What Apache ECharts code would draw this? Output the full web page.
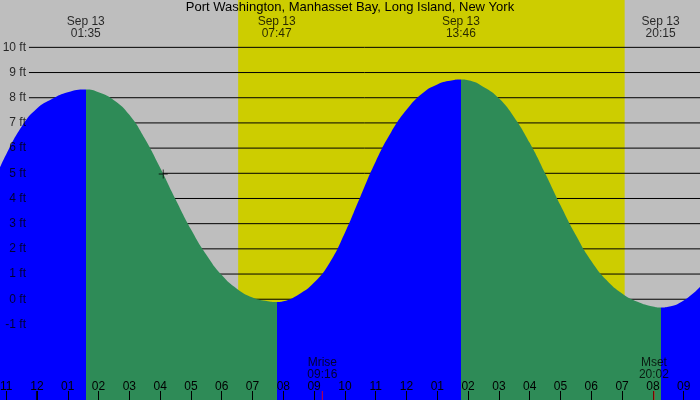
<!DOCTYPE html>
<html>
<head>
<meta charset="utf-8">
<title>Port Washington tides</title>
<script src="https://cdn.jsdelivr.net/npm/echarts@6/dist/echarts.min.js"></script>
<style>
html, body { margin: 0; padding: 0; background: #bebebe; }
#chart { width: 700px; height: 400px; }
</style>
</head>
<body>
<div id="chart"></div>
<script>
// tide height in ft; time = hours after midnight Sep 13
var tideHours = [-1.2, -1.0, -0.5, 0.0, 0.5, 1.0, 1.583,
    2.0, 2.5, 3.0, 3.5, 4.0, 4.5, 5.0, 5.5, 6.0, 6.5, 7.0, 7.5, 7.783,
    8.0, 8.5, 9.0, 9.5, 10.0, 10.5, 11.0, 11.5, 12.0, 12.5, 13.0, 13.5, 13.767,
    14.0, 14.5, 15.0, 15.5, 16.0, 16.5, 17.0, 17.5, 18.0, 18.5, 19.0, 19.5, 20.0, 20.25,
    20.5, 21.0, 21.53];
var tideFeet = [5.24, 5.75, 6.85, 7.57, 7.96, 8.22, 8.33,
    8.22, 7.90, 7.32, 6.38, 5.22, 3.97, 2.78, 1.77, 0.96, 0.41, 0.07, -0.08, -0.11,
    -0.08, 0.19, 0.66, 1.44, 2.64, 4.07, 5.47, 6.63, 7.52, 8.16, 8.53, 8.69, 8.72,
    8.69, 8.43, 7.98, 7.22, 6.21, 5.00, 3.73, 2.54, 1.52, 0.75, 0.23, -0.10, -0.29, -0.33,
    -0.30, -0.05, 0.49];

// high / low tide events (first one is a high)
var extremeDate = 'Sep 13';
var extremeTimes = ['01:35', '07:47', '13:46', '20:15'];
// moon rise / set
var moonNames = ['Mrise', 'Mset'];
var moonTimes = ['09:16', '20:02'];
// sunrise / sunset
var sunTimes = ['06:32', '19:05'];
// the + marker
var nowMark = [4.10, 4.97];

// ticks
var hourTicks = [-1, 0, 1, 2, 3, 4, 5, 6, 7, 8, 9, 10, 11, 12, 13, 14, 15, 16, 17, 18, 19, 20, 21];
var hourLabels = ['11', '12', '01', '02', '03', '04', '05', '06', '07', '08', '09', '10', '11',
    '12', '01', '02', '03', '04', '05', '06', '07', '08', '09'];
var dayBreaks = [0];
var footTicks = [-1, 0, 1, 2, 3, 4, 5, 6, 7, 8, 9, 10];

var X_MIN = -1.2, X_MAX = 21.53;
var Y_MIN = -4, Y_MAX = 11.88;
var LINE_START = -0.26;   // where the level lines begin (just right of the labels)

var FLOOD = '#0000ff', EBB = '#2e8b57', DAY = '#cdcd00', NIGHT = '#bebebe';

function toHours(s) {
    var p = s.split(':');
    return +p[0] + (+p[1]) / 60;
}

var tideData = tideHours.map(function (h, i) { return [h, tideFeet[i]]; });

// blue while rising, green while falling
var bounds = [X_MIN].concat(extremeTimes.map(toHours)).concat([X_MAX]);
var pieces = [];
for (var i = 0; i < bounds.length - 1; i++) {
    pieces.push({ gte: bounds[i], lt: bounds[i + 1], color: i % 2 === 0 ? FLOOD : EBB });
}
pieces[pieces.length - 1].lte = X_MAX;
delete pieces[pieces.length - 1].lt;

// one broken polyline for all the level lines
var levelLines = [];
footTicks.forEach(function (v) {
    levelLines.push([LINE_START, v], [X_MAX, v], '-');
});

var textLabel = { show: true, fontSize: 12, lineHeight: 12, color: '#000', fontFamily: 'Liberation Sans' };

// layers: 0 = background bits, 1 = tide, 2 = text and ticks
var myChart = echarts.init(document.getElementById('chart'));
var option = {
    backgroundColor: NIGHT,
    animation: false,
    textStyle: { fontFamily: 'Liberation Sans', color: '#000' },
    title: {
        text: 'Port Washington, Manhasset Bay, Long Island, New York',
        left: 'center',
        top: 1,
        padding: 0,
        zlevel: 2,
        textStyle: { fontSize: 13, fontWeight: 'normal', color: '#000', fontFamily: 'Liberation Sans' }
    },
    grid: { left: 0, right: 0, top: 0, bottom: 0, containLabel: false, outerBoundsMode: 'none' },
    xAxis: {
        type: 'value',
        min: X_MIN,
        max: X_MAX,
        zlevel: 2,
        axisLine: { show: false, onZero: false },
        splitLine: { show: false },
        axisTick: {
            inside: true,
            length: 9,
            customValues: hourTicks,
            lineStyle: { color: '#000', width: 1 }
        },
        axisLabel: {
            inside: true,
            margin: 7,
            customValues: hourTicks,
            fontSize: 12,
            color: '#000',
            formatter: function (v) {
                return hourLabels[hourTicks.indexOf(Math.round(v))];
            }
        }
    },
    yAxis: {
        type: 'value',
        show: false,
        min: Y_MIN,
        max: Y_MAX,
        axisLine: { show: false, onZero: false },
        axisTick: { show: false },
        axisLabel: { show: false },
        splitLine: { show: false }
    },
    visualMap: {
        type: 'piecewise',
        show: false,
        dimension: 0,
        seriesIndex: 2,
        pieces: pieces
    },
    series: [
        {
            // daylight band
            type: 'line',
            data: [],
            zlevel: 0,
            z: 1,
            markArea: {
                silent: true,
                itemStyle: { color: DAY },
                data: [[{ xAxis: toHours(sunTimes[0]) }, { xAxis: toHours(sunTimes[1]) }]]
            }
        },
        {
            // level lines
            type: 'line',
            data: levelLines,
            zlevel: 0,
            z: 2,
            silent: true,
            showSymbol: false,
            connectNulls: false,
            lineStyle: { color: '#000', width: 1 }
        },
        {
            name: 'tide',
            type: 'line',
            data: tideData,
            zlevel: 1,
            smooth: true,
            showSymbol: false,
            lineStyle: { width: 0 },
            areaStyle: { opacity: 1, origin: 'start' }
        },
        {
            // foot labels down the left side
            type: 'scatter',
            zlevel: 2,
            symbolSize: 0,
            silent: true,
            data: footTicks.map(function (v) { return [X_MIN, v]; }),
            label: Object.assign({}, textLabel, {
                position: 'inside',
                align: 'right',
                offset: [26, 0],
                formatter: function (p) { return p.value[1] + ' ft'; }
            })
        },
        {
            // high / low labels at the top
            type: 'scatter',
            zlevel: 2,
            symbolSize: 0,
            silent: true,
            data: extremeTimes.map(function (t) { return [toHours(t), Y_MAX, t]; }),
            label: Object.assign({}, textLabel, {
                position: 'inside',
                offset: [0, 28],
                formatter: function (p) { return extremeDate + '\n' + p.value[2]; }
            })
        },
        {
            // moon rise / set
            type: 'scatter',
            zlevel: 2,
            symbol: 'rect',
            symbolSize: [1, 18],
            silent: true,
            itemStyle: { color: '#ff0000' },
            data: moonTimes.map(function (t, i) { return [toHours(t), Y_MIN, moonNames[i], t]; }),
            label: Object.assign({}, textLabel, {
                position: 'inside',
                offset: [0, -31],
                formatter: function (p) { return p.value[2] + '\n' + p.value[3]; }
            })
        },
        {
            // heavier tick at midnight
            type: 'scatter',
            zlevel: 2,
            symbol: 'rect',
            symbolSize: [2, 18],
            silent: true,
            itemStyle: { color: '#000' },
            data: dayBreaks.map(function (h) { return [h, Y_MIN]; })
        },
        {
            // + marker
            type: 'scatter',
            zlevel: 2,
            symbol: 'path://M0,4.5h10v1h-10z M4.5,0h1v10h-1z',
            symbolSize: 9,
            silent: true,
            itemStyle: { color: '#000' },
            data: [nowMark]
        }
    ]
};
myChart.setOption(option);
</script>
</body>
</html>
